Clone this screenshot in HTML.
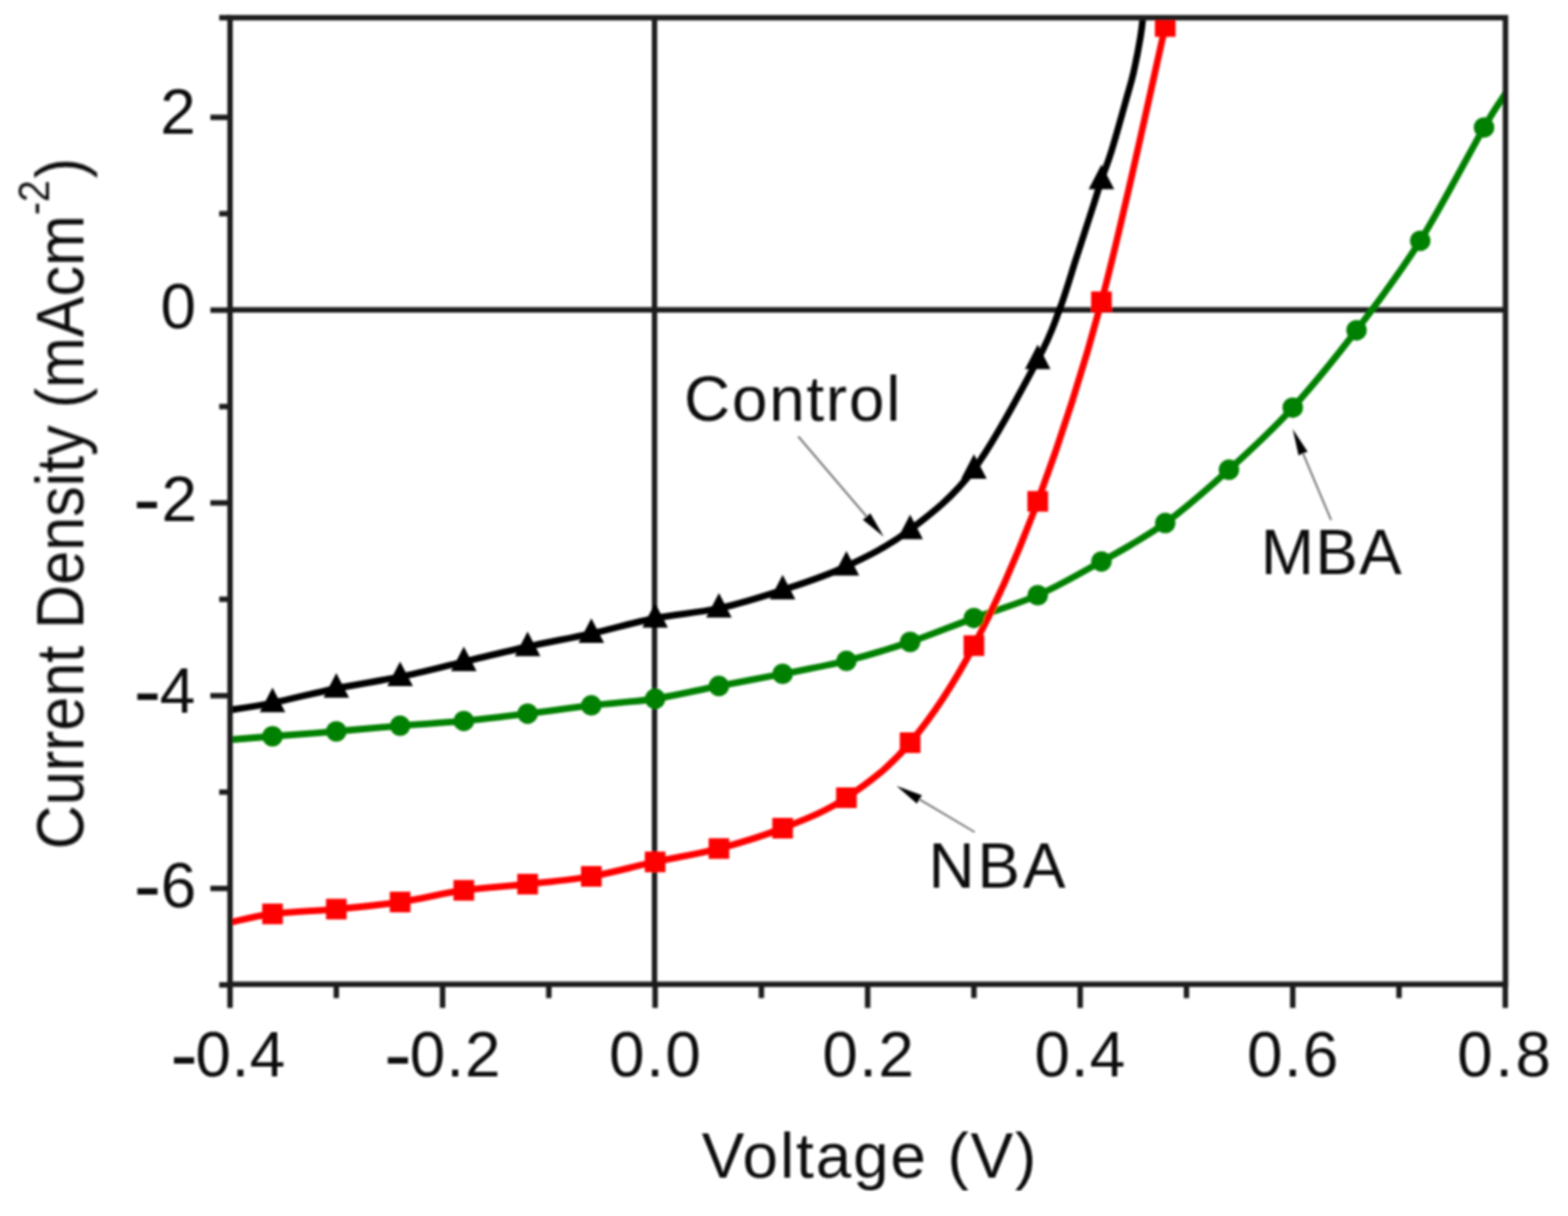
<!DOCTYPE html><html><head><meta charset="utf-8"><title>J-V curves</title><style>html,body{margin:0;padding:0;background:#fff}svg{display:block}text{font-family:"Liberation Sans",Arial,sans-serif;fill:#111}</style></head><body>
<svg width="1595" height="1237" viewBox="0 0 1595 1237">
<rect width="1595" height="1237" fill="#fff"/>
<defs><clipPath id="pc"><rect x="234" y="18" width="1297.4" height="983.3"/></clipPath><filter id="bl" x="0" y="0" width="100%" height="100%"><feGaussianBlur stdDeviation="0.9"/></filter></defs>
<g filter="url(#bl)">
<g stroke="#1c1c1c" stroke-width="5.5" fill="none">
<line x1="234" y1="315.2" x2="1531.4" y2="315.2"/>
<line x1="665.8" y1="18" x2="665.8" y2="1001.3"/>
</g>
<g clip-path="url(#pc)" fill="none" stroke-width="6.8" stroke-linejoin="round">
<path d="M234.0,722.3 C241.2,721.1 259.2,718.7 277.2,715.0 C295.3,711.3 320.5,704.7 342.1,700.3 C363.7,695.9 385.3,693.0 407.0,688.5 C428.6,684.0 450.2,678.3 471.8,673.2 C493.4,668.1 515.1,662.7 536.7,657.9 C558.3,653.1 579.9,649.3 601.5,644.5 C623.2,639.7 644.8,633.2 666.4,628.9 C688.0,624.6 709.6,623.6 731.3,618.8 C752.9,614.0 774.5,607.3 796.1,600.2 C817.7,593.1 839.4,586.3 861.0,576.1 C882.6,565.9 904.2,555.4 925.8,538.9 C947.5,522.4 969.1,506.2 990.7,477.4 C1012.3,448.6 1041.1,393.0 1055.6,366.0 C1070.0,339.0 1071.1,332.4 1077.6,315.3 C1084.1,298.2 1088.9,280.8 1094.5,263.5 C1100.1,246.2 1107.0,225.2 1111.3,211.8 C1115.6,198.4 1117.2,192.5 1120.4,182.9 C1123.6,173.3 1126.3,167.6 1130.5,154.0 C1134.7,140.4 1141.8,114.8 1145.5,101.5 C1149.2,88.2 1150.6,84.5 1153.0,74.0 C1155.4,63.5 1158.4,48.0 1160.0,38.3 C1161.6,28.6 1161.9,25.7 1162.8,16.0 C1163.7,6.3 1165.0,-14.0 1165.5,-20.0" stroke="#000"/>
<path d="M234.0,752.5 C241.2,751.9 259.2,750.4 277.2,749.0 C295.3,747.6 320.5,745.8 342.1,744.0 C363.7,742.2 385.3,740.1 407.0,738.3 C428.6,736.5 450.2,735.5 471.8,733.4 C493.4,731.3 515.1,728.5 536.7,725.9 C558.3,723.3 579.9,720.1 601.5,717.6 C623.2,715.1 644.8,714.1 666.4,710.8 C688.0,707.5 709.6,702.0 731.3,697.8 C752.9,693.6 774.5,689.8 796.1,685.5 C817.7,681.2 839.4,677.7 861.0,672.3 C882.6,666.9 904.2,660.3 925.8,653.0 C947.5,645.7 969.1,636.6 990.7,628.7 C1012.3,620.8 1033.9,615.1 1055.6,605.5 C1077.2,595.9 1098.8,583.4 1120.4,571.2 C1142.0,559.0 1163.7,547.7 1185.3,532.1 C1206.9,516.5 1228.5,497.4 1250.1,477.8 C1271.8,458.2 1293.4,438.4 1315.0,414.7 C1336.6,391.0 1358.2,364.2 1379.9,335.9 C1401.5,307.6 1423.1,279.3 1444.7,244.9 C1466.3,210.5 1495.1,154.7 1509.6,129.7 C1524.0,104.7 1525.5,105.0 1531.4,95.0 C1537.3,85.0 1542.7,74.2 1545.0,70.0" stroke="#008000"/>
<path d="M234.0,938.3 C241.2,936.9 259.2,932.0 277.2,929.7 C295.3,927.5 320.5,926.8 342.1,924.8 C363.7,922.8 385.3,920.8 407.0,917.6 C428.6,914.4 450.2,908.7 471.8,905.7 C493.4,902.7 515.1,901.8 536.7,899.4 C558.3,897.0 579.9,895.3 601.5,891.5 C623.2,887.7 644.8,881.5 666.4,876.8 C688.0,872.1 709.6,868.9 731.3,863.2 C752.9,857.5 774.5,851.1 796.1,842.5 C817.7,833.9 839.4,826.0 861.0,811.5 C882.6,797.0 904.2,781.3 925.8,755.5 C947.5,729.7 969.1,697.7 990.7,656.8 C1012.3,615.9 1033.9,568.3 1055.6,510.0 C1077.2,451.7 1098.8,387.5 1120.4,307.0 C1142.0,226.5 1172.8,81.5 1185.3,27.0 C1197.7,-27.5 1193.4,-12.2 1195.0,-20.0" stroke="#ff0000"/>
</g>
<g>
<path d="M277.2,699.5L290.2,724.5L264.2,724.5Z" fill="#000"/>
<path d="M342.1,684.8L355.1,709.8L329.1,709.8Z" fill="#000"/>
<path d="M407.0,673.0L420.0,698.0L394.0,698.0Z" fill="#000"/>
<path d="M471.8,657.7L484.8,682.7L458.8,682.7Z" fill="#000"/>
<path d="M536.7,642.4L549.7,667.4L523.7,667.4Z" fill="#000"/>
<path d="M601.5,629.0L614.5,654.0L588.5,654.0Z" fill="#000"/>
<path d="M666.4,613.4L679.4,638.4L653.4,638.4Z" fill="#000"/>
<path d="M731.3,603.3L744.3,628.3L718.3,628.3Z" fill="#000"/>
<path d="M796.1,584.7L809.1,609.7L783.1,609.7Z" fill="#000"/>
<path d="M861.0,560.6L874.0,585.6L848.0,585.6Z" fill="#000"/>
<path d="M925.8,523.4L938.8,548.4L912.8,548.4Z" fill="#000"/>
<path d="M990.7,461.9L1003.7,486.9L977.7,486.9Z" fill="#000"/>
<path d="M1055.6,350.5L1068.6,375.5L1042.6,375.5Z" fill="#000"/>
<path d="M1120.4,167.4L1133.4,192.4L1107.4,192.4Z" fill="#000"/>
<circle cx="277.2" cy="749.0" r="10.5" fill="#008000"/>
<circle cx="342.1" cy="744.0" r="10.5" fill="#008000"/>
<circle cx="407.0" cy="738.3" r="10.5" fill="#008000"/>
<circle cx="471.8" cy="733.4" r="10.5" fill="#008000"/>
<circle cx="536.7" cy="725.9" r="10.5" fill="#008000"/>
<circle cx="601.5" cy="717.6" r="10.5" fill="#008000"/>
<circle cx="666.4" cy="710.8" r="10.5" fill="#008000"/>
<circle cx="731.3" cy="697.8" r="10.5" fill="#008000"/>
<circle cx="796.1" cy="685.5" r="10.5" fill="#008000"/>
<circle cx="861.0" cy="672.3" r="10.5" fill="#008000"/>
<circle cx="925.8" cy="653.0" r="10.5" fill="#008000"/>
<circle cx="990.7" cy="628.7" r="10.5" fill="#008000"/>
<circle cx="1055.6" cy="605.5" r="10.5" fill="#008000"/>
<circle cx="1120.4" cy="571.2" r="10.5" fill="#008000"/>
<circle cx="1185.3" cy="532.1" r="10.5" fill="#008000"/>
<circle cx="1250.1" cy="477.8" r="10.5" fill="#008000"/>
<circle cx="1315.0" cy="414.7" r="10.5" fill="#008000"/>
<circle cx="1379.9" cy="335.9" r="10.5" fill="#008000"/>
<circle cx="1444.7" cy="244.9" r="10.5" fill="#008000"/>
<circle cx="1509.6" cy="129.7" r="10.5" fill="#008000"/>
<rect x="266.7" y="919.2" width="21" height="21" fill="#ff0000"/>
<rect x="331.6" y="914.3" width="21" height="21" fill="#ff0000"/>
<rect x="396.5" y="907.1" width="21" height="21" fill="#ff0000"/>
<rect x="461.3" y="895.2" width="21" height="21" fill="#ff0000"/>
<rect x="526.2" y="888.9" width="21" height="21" fill="#ff0000"/>
<rect x="591.0" y="881.0" width="21" height="21" fill="#ff0000"/>
<rect x="655.9" y="866.3" width="21" height="21" fill="#ff0000"/>
<rect x="720.8" y="852.7" width="21" height="21" fill="#ff0000"/>
<rect x="785.6" y="832.0" width="21" height="21" fill="#ff0000"/>
<rect x="850.5" y="801.0" width="21" height="21" fill="#ff0000"/>
<rect x="915.3" y="745.0" width="21" height="21" fill="#ff0000"/>
<rect x="980.2" y="646.3" width="21" height="21" fill="#ff0000"/>
<rect x="1045.1" y="499.5" width="21" height="21" fill="#ff0000"/>
<rect x="1109.9" y="296.5" width="21" height="21" fill="#ff0000"/>
<rect x="1174.8" y="16.5" width="21" height="21" fill="#ff0000"/>
</g>
<rect x="234" y="18" width="1297.4" height="983.3" fill="none" stroke="#1c1c1c" stroke-width="5.5"/>
<g stroke="#1c1c1c" stroke-width="5.5">
<line x1="234.0" y1="1001.3" x2="234.0" y2="1025.3"/>
<line x1="342.1" y1="1001.3" x2="342.1" y2="1015.3"/>
<line x1="450.2" y1="1001.3" x2="450.2" y2="1025.3"/>
<line x1="558.3" y1="1001.3" x2="558.3" y2="1015.3"/>
<line x1="666.4" y1="1001.3" x2="666.4" y2="1025.3"/>
<line x1="774.5" y1="1001.3" x2="774.5" y2="1015.3"/>
<line x1="882.6" y1="1001.3" x2="882.6" y2="1025.3"/>
<line x1="990.7" y1="1001.3" x2="990.7" y2="1015.3"/>
<line x1="1098.8" y1="1001.3" x2="1098.8" y2="1025.3"/>
<line x1="1206.9" y1="1001.3" x2="1206.9" y2="1015.3"/>
<line x1="1315.0" y1="1001.3" x2="1315.0" y2="1025.3"/>
<line x1="1423.1" y1="1001.3" x2="1423.1" y2="1015.3"/>
<line x1="1531.2" y1="1001.3" x2="1531.2" y2="1025.3"/>
<line x1="234" y1="1001.9" x2="223" y2="1001.9"/>
<line x1="234" y1="903.8" x2="214" y2="903.8"/>
<line x1="234" y1="805.8" x2="223" y2="805.8"/>
<line x1="234" y1="707.7" x2="214" y2="707.7"/>
<line x1="234" y1="609.6" x2="223" y2="609.6"/>
<line x1="234" y1="511.6" x2="214" y2="511.6"/>
<line x1="234" y1="413.6" x2="223" y2="413.6"/>
<line x1="234" y1="315.5" x2="214" y2="315.5"/>
<line x1="234" y1="217.4" x2="223" y2="217.4"/>
<line x1="234" y1="119.4" x2="214" y2="119.4"/>
<line x1="234" y1="18.0" x2="223" y2="18.0"/>
</g>
<text x="173.20" y="1095.00" font-size="65" letter-spacing="0.57"><tspan font-size="84" dy="6">-</tspan><tspan dy="-6" dx="-3">0.4</tspan></text>
<text x="390.80" y="1095.00" font-size="65" letter-spacing="1.00"><tspan font-size="84" dy="6">-</tspan><tspan dy="-6" dx="-3">0.2</tspan></text>
<text x="619.60" y="1095.00" font-size="65" letter-spacing="1.50">0.0</text>
<text x="836.40" y="1095.00" font-size="65" letter-spacing="1.50">0.2</text>
<text x="1052.20" y="1095.00" font-size="65" letter-spacing="1.00">0.4</text>
<text x="1268.40" y="1095.00" font-size="65" letter-spacing="1.35">0.6</text>
<text x="1482.20" y="1095.00" font-size="65" letter-spacing="2.60">0.8</text>
<text x="162.90" y="135.50" font-size="65" letter-spacing="1.00">2</text>
<text x="163.30" y="334.30" font-size="65" letter-spacing="1.00">0</text>
<text x="135.60" y="529.50" font-size="65" letter-spacing="3.70"><tspan font-size="84" dy="6">-</tspan><tspan dy="-6" dx="-3">2</tspan></text>
<text x="136.00" y="725.10" font-size="65" letter-spacing="1.40"><tspan font-size="84" dy="6">-</tspan><tspan dy="-6" dx="-3">4</tspan></text>
<text x="136.00" y="922.80" font-size="65" letter-spacing="2.40"><tspan font-size="84" dy="6">-</tspan><tspan dy="-6" dx="-3">6</tspan></text>
<text x="713.70" y="1197.50" font-size="65" letter-spacing="1.90">Voltage (V)</text>
<text x="695.80" y="427.50" font-size="65" letter-spacing="1.75">Control</text>
<text x="944.60" y="902.90" font-size="65" letter-spacing="2.75">NBA</text>
<text x="1282.50" y="583.70" font-size="65" letter-spacing="1.30">MBA</text>
<text transform="translate(85,512.3) scale(1.1,1) rotate(-90)" font-size="62.1" text-anchor="middle">Current Density (mAcm<tspan dy="-32" font-size="40">-2</tspan><tspan dy="32" dx="2">)</tspan></text>
<line x1="812.0" y1="444.0" x2="881.5" y2="525.5" stroke="#777" stroke-width="2"/>
<path d="M899.0,546.0L877.7,528.7L885.3,522.2Z" fill="#000"/>
<line x1="991.5" y1="846.5" x2="935.2" y2="813.2" stroke="#777" stroke-width="2"/>
<path d="M912.0,799.5L937.8,808.9L932.7,817.5Z" fill="#000"/>
<line x1="1354.0" y1="529.0" x2="1325.5" y2="461.4" stroke="#777" stroke-width="2"/>
<path d="M1315.0,436.5L1330.1,459.4L1320.9,463.3Z" fill="#000"/>
</g></svg></body></html>
